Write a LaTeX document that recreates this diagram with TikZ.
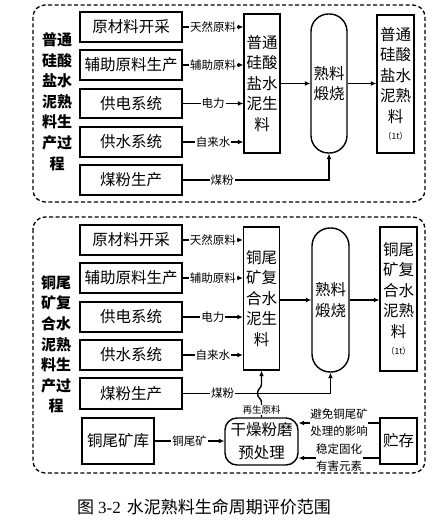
\documentclass[tikz,border=0pt]{standalone}
\usepackage{fontspec}
\setmainfont{Noto Sans CJK SC}
\newfontfamily\tnr{Liberation Serif}
\usetikzlibrary{arrows.meta}
\tikzset{
  box/.style={draw, line width=1.4pt, inner sep=0pt, align=center, font=\fontsize{15.5}{20.5}\selectfont},
  arr/.style={line width=1.4pt, -{Latex[length=5.5pt,width=5pt]}},
  lab/.style={fill=white, inner sep=1pt, font=\fontsize{11.5}{13}\selectfont},
  labtwo/.style={fill=white, inner sep=0.5pt, align=center, font=\fontsize{11.5}{17}\selectfont},
  labsmall/.style={fill=white, inner sep=0.5pt, font=\fontsize{9.5}{11}\selectfont},
  panel/.style={draw, line width=1.3pt, dash pattern=on 4pt off 2.5pt, rounded corners=12pt},
  side/.style={align=center, font=\bfseries\fontsize{15}{20.6}\selectfont},
  unit/.style={font=\fontsize{8.5}{9}\selectfont}
}
\begin{document}
\begin{tikzpicture}[x=1pt,y=-1pt]
\useasboundingbox (0,0) rectangle (441,526);
% ---------- top panel ----------
\draw[panel] (33,5) rectangle (425,202);
\node[side] (tl) at (57,101.5) {普通\\硅酸\\盐水\\泥熟\\料生\\产过\\程};
\node[box, minimum width=102pt, minimum height=30pt] (t1) at (131,27) {原材料开采};
\node[box, minimum width=102pt, minimum height=30pt] (t2) at (131,65) {辅助原料生产};
\node[box, minimum width=102pt, minimum height=29pt] (t3) at (131,103.5) {供电系统};
\node[box, minimum width=102pt, minimum height=30pt] (t4) at (131,142) {供水系统};
\node[box, minimum width=102pt, minimum height=30pt] (t5) at (131,180) {煤粉生产};
\node[box, minimum width=36pt, minimum height=139pt] (tc) at (262,83.5) {普通\\硅酸\\盐水\\泥生\\料};
\node[box, minimum width=36pt, minimum height=139pt, rounded corners=17.5pt] (tk) at (329,83.5) {熟料\\煅烧};
\node[box, minimum width=37pt, minimum height=138pt] (to) at (395.5,84) {普通\\硅酸\\盐水\\泥熟\\料\\[-3pt]{\fontsize{8.5}{9}\selectfont （1t）}};
\draw[arr] (t1.east) -- node[lab]{天然原料} (t1.east -| tc.west);
\draw[arr] (t2.east) -- node[lab]{辅助原料} (t2.east -| tc.west);
\draw[arr] (t3.east) -- node[lab]{电力} (t3.east -| tc.west);
\draw[arr] (t4.east) -- node[lab]{自来水} (t4.east -| tc.west);
\draw[arr] (tc.east) -- (tk.west);
\draw[arr] (tk.east) -- (tk.east -| to.west);
\draw[arr] (t5.east) -- node[lab, pos=0.27]{煤粉} (t5.east -| tk.south) -- (tk.south);
% ---------- bottom panel ----------
\draw[panel] (33,217) rectangle (425,473);
\node[side] (bl) at (56,344.5) {铜尾\\矿复\\合水\\泥熟\\料生\\产过\\程};
\node[box, minimum width=102pt, minimum height=30pt] (u1) at (131,240) {原材料开采};
\node[box, minimum width=102pt, minimum height=30pt] (u2) at (131,278) {辅助原料生产};
\node[box, minimum width=102pt, minimum height=30pt] (u3) at (131,317) {供电系统};
\node[box, minimum width=102pt, minimum height=30pt] (u4) at (131,355) {供水系统};
\node[box, minimum width=102pt, minimum height=31pt] (u5) at (131,393.5) {煤粉生产};
\node[box, minimum width=36pt, minimum height=143pt] (uc) at (261.5,298.5) {铜尾\\矿复\\合水\\泥生\\料};
\node[box, minimum width=37pt, minimum height=144pt, rounded corners=18pt] (uk) at (330.5,300) {熟料\\煅烧};
\node[box, minimum width=37pt, minimum height=144pt] (uo) at (398.5,299) {铜尾\\矿复\\合水\\泥熟\\料\\[-3pt]{\fontsize{8.5}{9}\selectfont （1t）}};
\node[box, minimum width=72pt, minimum height=46pt] (ut) at (118,441) {铜尾矿库};
\node[box, minimum width=73pt, minimum height=47pt, rounded corners=12pt, font=\fontsize{15.5}{23}\selectfont] (ud) at (261.5,441.5) {干燥粉磨\\预处理};
\node[box, minimum width=37pt, minimum height=46pt] (us) at (398.5,441) {贮存};
\draw[arr] (u1.east) -- node[lab]{天然原料} (u1.east -| uc.west);
\draw[arr] (u2.east) -- node[lab]{辅助原料} (u2.east -| uc.west);
\draw[arr] (u3.east) -- node[lab]{电力} (u3.east -| uc.west);
\draw[arr] (u4.east) -- node[lab]{自来水} (u4.east -| uc.west);
\draw[arr] (uc.east |- uk.west) -- (uk.west);
\draw[arr] (uk.east) -- (uk.east -| uo.west);
\draw[arr] (u5.east) -- node[lab, pos=0.27]{煤粉} (u5.east -| uk.south) -- (uk.south);
\draw[arr] (ud.north) -- node[labsmall]{再生原料} ++(0,-15)
  .. controls +(0,-4) and +(0,5) .. ++(-4,-9)
  .. controls +(0,-5) and +(0,4) .. ++(4,-9) -- (uc.south);
\draw[arr] (ut.east) -- node[lab]{铜尾矿} (ut.east -| ud.west);
\draw[arr] ([yshift=18pt]us.west) -- node[labtwo]{避免铜尾矿\\处理的影响} ([yshift=18pt]us.west -| ud.east);
\draw[arr] ([yshift=-17pt]us.west) -- node[labtwo]{稳定固化\\有害元素} ([yshift=-17pt]us.west -| ud.east);
% ---------- caption ----------
\node[font=\fontsize{17}{18}\selectfont] (cap) at (204,507) {图\hspace{4pt}{\tnr 3-2}\hspace{6pt}水泥熟料生命周期评价范围};
\end{tikzpicture}
\end{document}
